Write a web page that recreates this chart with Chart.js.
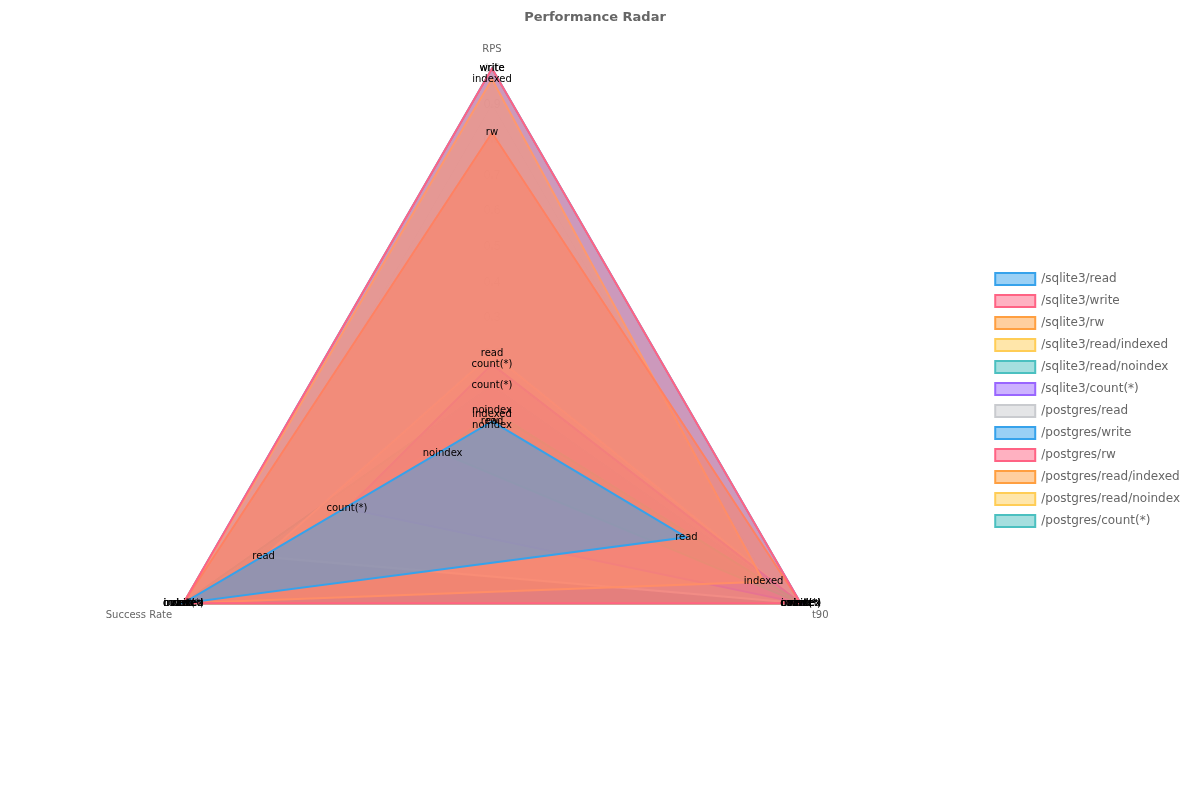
<!DOCTYPE html>
<html><head><meta charset="utf-8">
<script src="https://cdn.jsdelivr.net/npm/chart.js@4"></script>
<style>html,body{margin:0;background:#fff}#w{width:1200px;height:800px}</style>
</head><body><div id="w"><canvas id="c"></canvas></div>
<script>
const axes = ["RPS", "t90", "Success Rate"];
const seriesNames = ["/sqlite3/read","/sqlite3/write","/sqlite3/rw","/sqlite3/read/indexed","/sqlite3/read/noindex","/sqlite3/count(*)","/postgres/read","/postgres/write","/postgres/rw","/postgres/read/indexed","/postgres/read/noindex","/postgres/count(*)"];
const sqliteRead = [0.01, 0.63, 1.0];
const sqliteWrite = [1.0, 1.0, 1.0];
const sqliteRw = [0.82, 1.0, 1.0];
const sqliteIndexed = [0.97, 0.88, 1.0];
const sqliteNoindex = [0.04, 1.0, 0.16];
const sqliteCount = [0.17, 1.0, 0.47];
const pgRead = [0.2, 1.0, 0.74];
const pgWrite = [1.0, 1.0, 1.0];
const pgRw = [0.01, 1.0, 1.0];
const pgIndexed = [0.03, 1.0, 1.0];
const pgNoindex = [0.0, 1.0, 1.0];
const pgCount = [0.11, 1.0, 1.0];
const values = [sqliteRead,sqliteWrite,sqliteRw,sqliteIndexed,sqliteNoindex,sqliteCount,pgRead,pgWrite,pgRw,pgIndexed,pgNoindex,pgCount];
const palette = [[54,162,235],[255,99,132],[255,159,64],[255,205,86],[75,192,192],[153,102,255],[201,203,207]];
const datasets = seriesNames.map((n,i)=>{const c=palette[i%7];return {label:n,data:values[i],borderColor:`rgb(${c})`,backgroundColor:`rgba(${c},0.5)`,borderWidth:2,pointRadius:0,fill:true};});
const labelPlugin = {id:'pl',afterDatasetsDraw(chart){const ctx=chart.ctx;ctx.save();ctx.font='10px "DejaVu Sans"';ctx.fillStyle='#000';ctx.textAlign='center';ctx.textBaseline='middle';
chart.data.datasets.forEach((ds,i)=>{const m=chart.getDatasetMeta(i);const short=ds.label.split('/').pop();m.data.forEach(p=>ctx.fillText(short,p.x,p.y));});ctx.restore();}};
new Chart(document.getElementById('c'),{type:'radar',data:{labels:axes,datasets},plugins:[labelPlugin],
options:{responsive:true,maintainAspectRatio:false,animation:false,layout:{padding:{top:0,bottom:0,left:0,right:10}},
plugins:{title:{display:true,text:'Performance Radar',color:'#666',font:{size:13,weight:'bold',family:'DejaVu Sans'},padding:{top:10,bottom:10}},
legend:{position:'right',labels:{color:'#666',font:{size:12,family:'DejaVu Sans'},boxWidth:40,boxHeight:12}}},
scales:{r:{min:0,max:1,ticks:{stepSize:0.1,color:'rgba(0,0,0,0.15)',backdropColor:'rgba(255,255,255,0)',font:{size:12}},grid:{color:'rgba(0,0,0,0.05)'},angleLines:{color:'rgba(0,0,0,0.05)'},pointLabels:{color:'#666',font:{size:10,family:'DejaVu Sans'}}}}}});
</script></body></html>
